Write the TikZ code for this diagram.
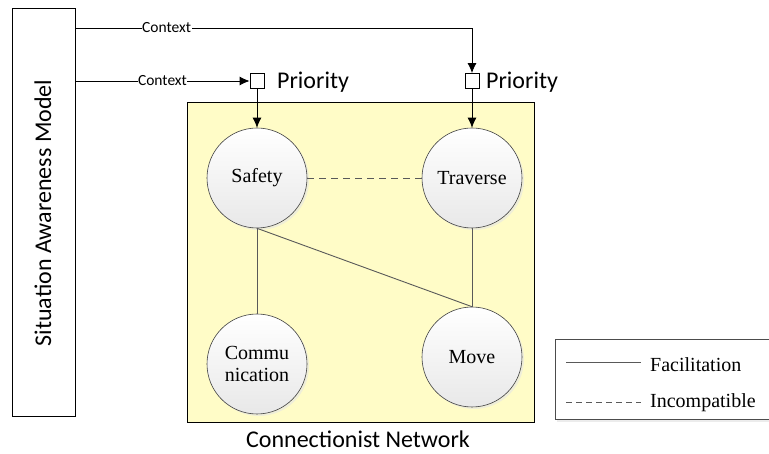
\documentclass[tikz,border=0pt]{standalone}
\usepackage{fontspec}
\setmainfont{Liberation Serif}
\newfontfamily\calfont{Carlito}
\usetikzlibrary{arrows.meta,shadows,positioning}
\tikzset{
  neuron/.style={circle,draw=black!75,line width=0.6pt,minimum size=100pt,inner sep=0pt,
    top color=white,bottom color=black!9,
    drop shadow={shadow xshift=2pt,shadow yshift=-2pt,fill=black!10,opacity=0.6},
    font=\fontsize{20}{22}\selectfont,align=center},
  prio/.style={draw,fill=white,minimum width=14pt,minimum height=15pt,inner sep=0pt,line width=0.8pt},
  flow/.style={-{Latex[length=10pt,width=9pt]},line width=0.8pt},
  ctx/.style={fill=white,inner sep=0.5pt,font=\calfont\fontsize{15.5}{17}\selectfont},
  link/.style={draw=black!65,line width=0.9pt},
  lbl/.style={font=\calfont\fontsize{24}{26}\selectfont,inner sep=0pt},
}
\begin{document}
\begin{tikzpicture}[x=1pt,y=-1pt]
\useasboundingbox (0,0) rectangle (769,454);
% Situation awareness model
\node[draw,line width=0.8pt,minimum width=63pt,minimum height=408pt,inner sep=0pt] (sam) at (43.5,212) {};
\node[rotate=90,lbl] (samt) at (43,213) {Situation Awareness Model};
% network box
\node[draw,line width=0.9pt,fill=yellow!22,minimum width=347pt,minimum height=320pt,inner sep=0pt] (net) at (360.5,262) {};
\node[lbl,anchor=base] (nett) at (358,448) {Connectionist Network};
% priority squares
\node[prio] (p1) at (257,81) {};
\node[prio] (p2) at (472,81) {};
\node[lbl,anchor=base west] (p1t) at (277,89) {Priority};
\node[lbl,anchor=base west] (p2t) at (486,89) {Priority};
% neurons
\node[neuron] (safety) at (257,178) {Safety};
\node[neuron] (trav) at (472,178) {Traverse};
\node[neuron] (comm) at (257,364) {Commu\\nication};
\node[neuron] (move) at (472,357) {Move};
% context arrows
\coordinate (c1) at (sam.east |- 0,28);
\coordinate (c2) at (sam.east |- 0,81);
\draw[flow] (c1) -| node[ctx,pos=0.115] {Context} (p2.north);
\draw[flow] (c2) -- node[ctx,pos=0.5] {Context} (p1.west);
\draw[flow] (p1.south) -- (safety.north);
\draw[flow] (p2.south) -- (trav.north);
% links
\draw[link] (safety.south) -- (comm.north);
\draw[link] (safety.south) -- (move.north);
\draw[link] (trav.south) -- (move.north);
\draw[link,dashed,dash pattern=on 7pt off 5pt] (safety.east) -- (trav.west);
% legend
\node[draw=black!70,line width=0.8pt,fill=white,minimum width=220pt,minimum height=80pt,inner sep=0pt,
  drop shadow={shadow xshift=2pt,shadow yshift=-3pt,fill=black!12,opacity=0.6}] (leg) at (665,379) {};
\coordinate (l1a) at (566,362);
\coordinate (l1b) at (641,362);
\coordinate (l2a) at (566,402);
\coordinate (l2b) at (641,402);
\draw[link] (l1a) -- (l1b);
\draw[link,dash pattern=on 6pt off 4pt] (l2a) -- (l2b);
\node[anchor=west,inner sep=0pt,font=\fontsize{20}{22}\selectfont] (lf) at (650,365) {Facilitation};
\node[anchor=west,inner sep=0pt,font=\fontsize{20}{22}\selectfont] (li) at (650,403) {Incompatible};
\end{tikzpicture}
\end{document}
